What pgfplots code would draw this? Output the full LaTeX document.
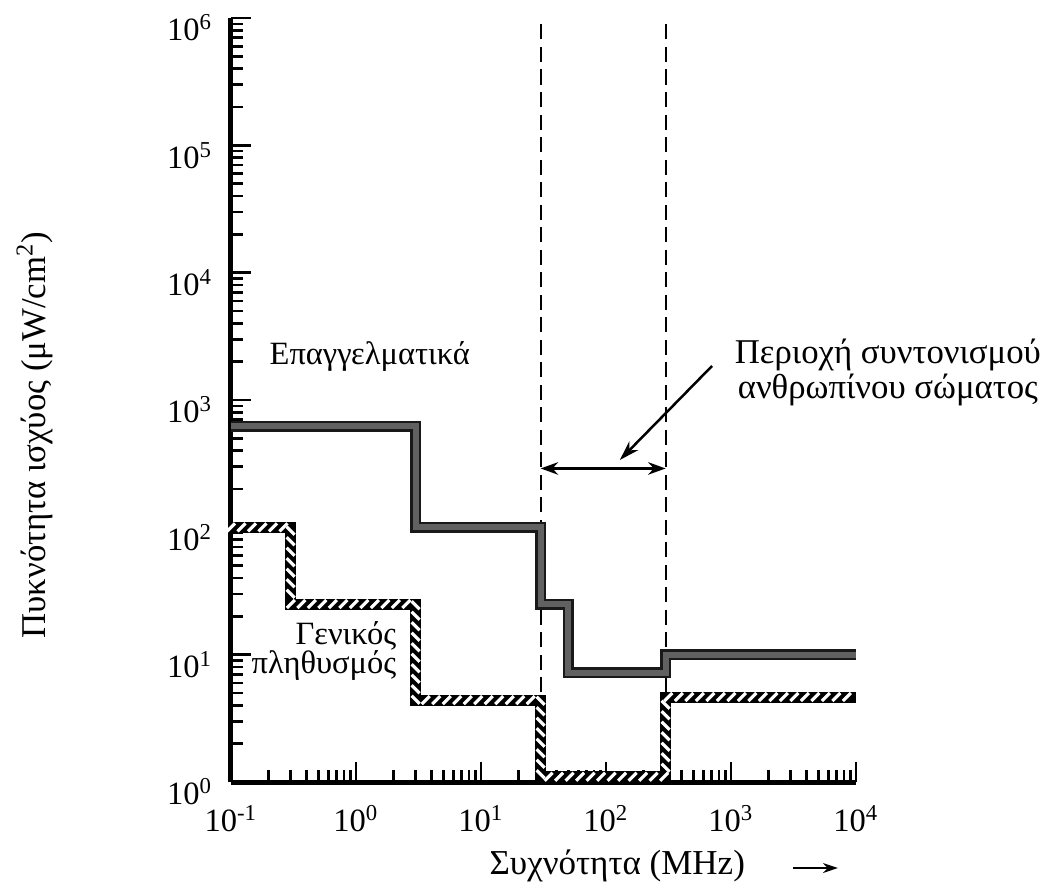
\documentclass[border=0pt]{standalone}
\usepackage{fontspec}
\setmainfont{Liberation Serif}
\usepackage{pgfplots}
\pgfplotsset{compat=1.18}
\usetikzlibrary{decorations.markings,arrows.meta}

\pgfplotstableread{
x y
0.1 620
3 100
30 25
50 7.2
300 10
10000 10
}\prof
\pgfplotstableread{
x y
0.1 100
0.3 25
3 4.4
30 1.1
300 4.65
10000 4.65
}\gen

\begin{document}
\begin{tikzpicture}[font=\fontsize{13}{15}\selectfont]
\begin{axis}[
  at={(0,0)}, anchor=south west,
  scale only axis, width=250pt, height=305.6pt,
  xmode=log, ymode=log,
  xmin=0.1, xmax=1e4, ymin=1, ymax=1e6,
  axis x line=bottom, axis y line=left,
  axis line style={-, line width=2pt},
  tick align=inside,
  major tick length=8pt, minor tick length=5pt,
  every tick/.style={black, line width=1pt},
  xtick={0.1,1,10,100,1000,10000},
  xticklabels={10\textsuperscript{-1},10\textsuperscript{0},10\textsuperscript{1},10\textsuperscript{2},10\textsuperscript{3},10\textsuperscript{4}},
  xticklabel style={yshift=-6pt},
  minor xtick={0.2,0.3,0.4,0.5,0.6,0.7,0.8,0.9,2,3,4,5,6,7,8,9,20,30,40,50,60,70,80,90,200,300,400,500,600,700,800,900,2000,3000,4000,5000,6000,7000,8000,9000},
  ytick={1,10,100,1000,10000,100000,1000000},
  yticklabels={10\textsuperscript{0},10\textsuperscript{1},10\textsuperscript{2},10\textsuperscript{3},10\textsuperscript{4},10\textsuperscript{5},10\textsuperscript{6}},
  yticklabel style={xshift=-4pt, yshift=-4pt},
  minor ytick={2,3,4,5,6,7,8,9,20,30,40,50,60,70,80,90,200,300,400,500,600,700,800,900,2000,3000,4000,5000,6000,7000,8000,9000,20000,30000,40000,50000,60000,70000,80000,90000,200000,300000,400000,500000,600000,700000,800000,900000},
  clip=false,
]
% dashed region lines
\addplot[black, line width=0.8pt, dash pattern=on 6pt off 3pt] coordinates {(30,1) (30,1e6)};
\addplot[black, line width=0.8pt, dash pattern=on 6pt off 3pt] coordinates {(300,1) (300,1e6)};
% professional
\addplot[const plot, black!90, line width=4.4pt, line join=miter,
  postaction={draw, black!62, line width=2.4pt}] table[x=x,y=y] {\prof};
% general population (hatched)
\addplot[const plot, black, line width=4.4pt, line join=miter,
  postaction={decorate, decoration={markings,
    mark=between positions 0 and 1 step 4.2pt with {\draw[white, line width=1.25pt] (-1.6pt,-1.6pt) -- (1.6pt,1.6pt);}}}] table[x=x,y=y] {\gen};
% double arrow
\addplot[black, line width=1pt, arrows={Stealth[length=7pt,width=5pt]-Stealth[length=7pt,width=5pt]}] coordinates {(30,290) (300,290)};
\draw[black, line width=1pt, -{Stealth[length=8pt,width=5pt]}] (axis cs:705,1850) -- (axis cs:129,338);
% texts
\node at (axis cs:1.29,2180) {Επαγγελματικά};
\node[align=right, anchor=east, font=\fontsize{13}{11.5}\selectfont] at (axis cs:2.47,10.7) {Γενικός\\πληθυσμός};
\node[align=center, font=\fontsize{13.9}{14}\selectfont] at (axis cs:1.8e4,1660) {Περιοχή συντονισμού\\ανθρωπίνου σώματος};
\node[font=\fontsize{14}{16}\selectfont] at (axis description cs:0.618,-0.110) {Συχνότητα (MHz)};
\draw[black, line width=0.8pt, -{Stealth[length=6pt,width=4pt]}] (axis description cs:0.899,-0.1126) -- (axis description cs:0.971,-0.1126);
\node[rotate=90, font=\fontsize{13.9}{16}\selectfont] at (axis description cs:-0.314,0.454) {Πυκνότητα ισχύος (μW/cm\textsuperscript{2})};
\end{axis}
\path (-92.4pt,-44pt) rectangle (328pt,312.8pt);
\end{tikzpicture}
\end{document}
